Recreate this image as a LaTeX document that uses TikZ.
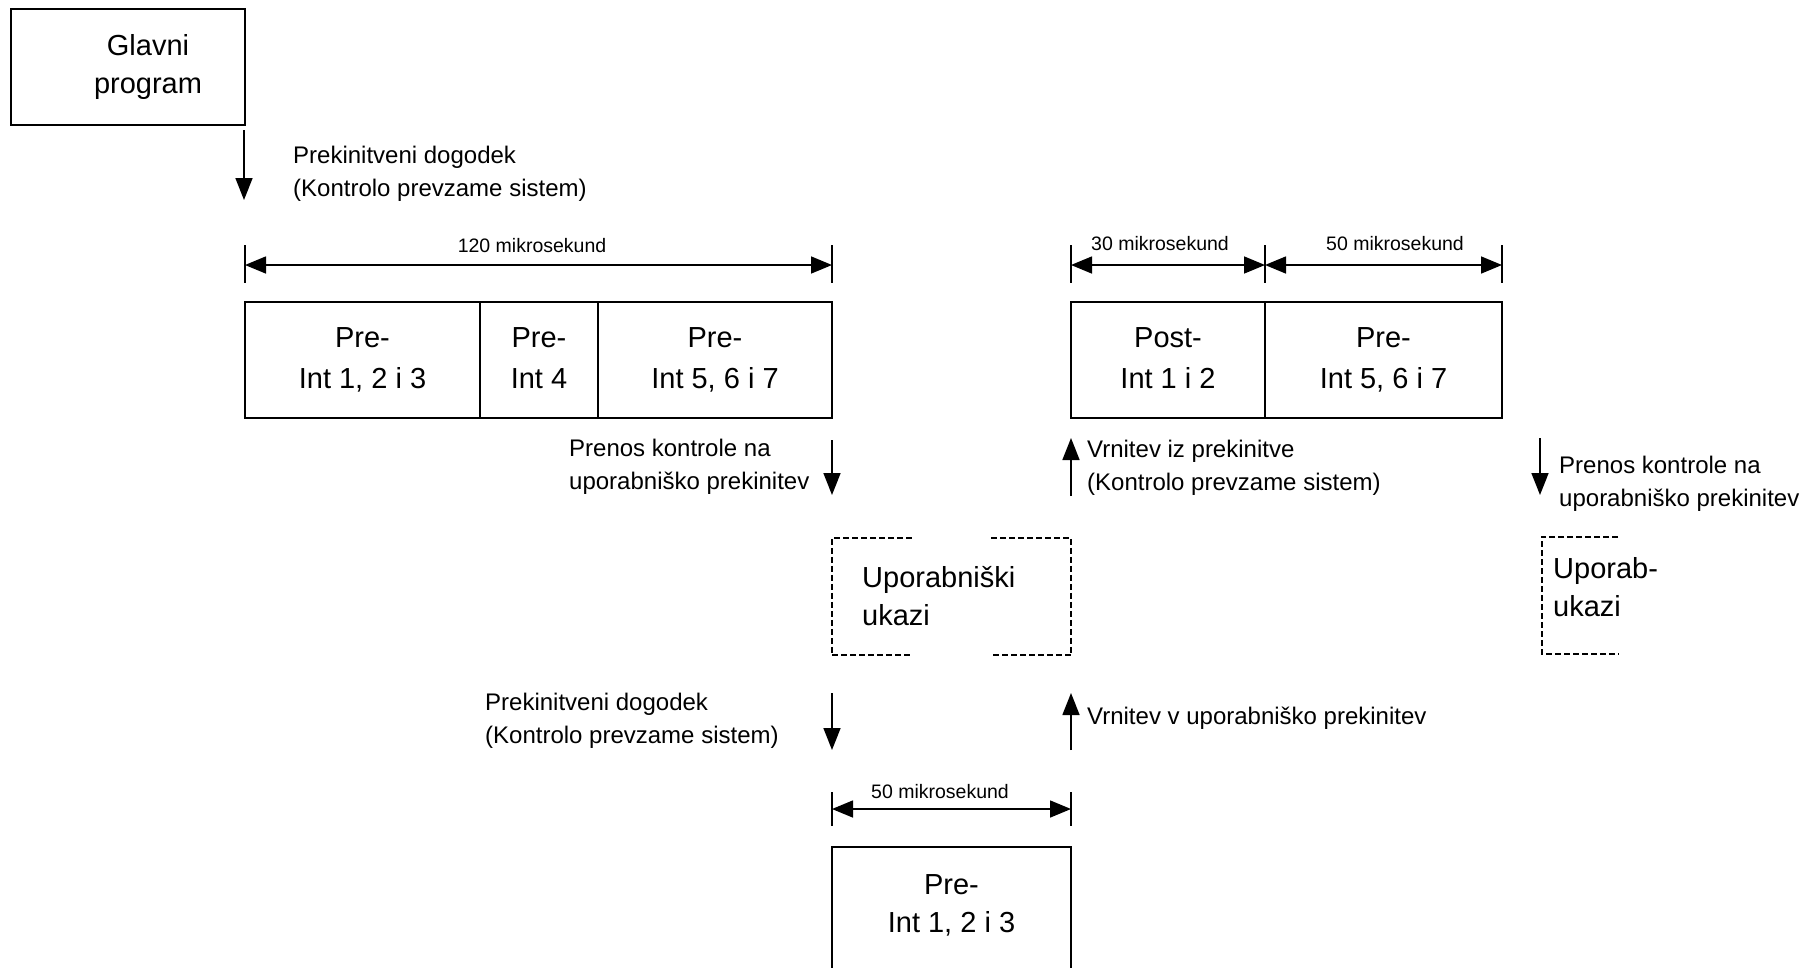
\documentclass[tikz,border=0pt]{standalone}
\usepackage{fontspec}
\setmainfont{Liberation Sans}
\usetikzlibrary{arrows.meta,calc}
\begin{document}
\begin{tikzpicture}[x=1pt,y=-1pt,
  boxline/.style={line width=1.6pt},
  box/.style={draw, boxline, inner sep=0pt, align=center, font=\fontsize{29}{41}\selectfont},
  boxtext/.style={inner sep=0pt, font=\fontsize{29}{38}\selectfont},
  lbl/.style={inner sep=0pt, anchor=west, align=left, font=\fontsize{24}{33}\selectfont},
  dimlbl/.style={inner sep=0pt, anchor=base, font=\fontsize{19.5}{24}\selectfont},
  flow/.style={line width=1.6pt, -{Triangle[length=22pt,width=17pt]}},
  dim/.style={line width=1.6pt, {Triangle[length=21pt,width=17pt]}-{Triangle[length=21pt,width=17pt]}},
  tick/.style={line width=1.6pt},
  dashbox/.style={line width=1.6pt, dash pattern=on 6pt off 3pt}
]
\useasboundingbox (0,0) rectangle (1815,967);
\clip (0,0) rectangle (1815,967);

% main program
\node[draw, boxline, minimum width=234, minimum height=116, inner sep=0pt] (gp) at (128,67) {};
\node[boxtext, align=center] (gpt) at (148,67) {Glavni\\program};

\coordinate (a1s) at (244,130); \coordinate (a1e) at (244,200);
\draw[flow] (a1s) -- (a1e);
\node[lbl] (l1) at (293,174) {Prekinitveni dogodek\\(Kontrolo prevzame sistem)};

% dimension 120
\coordinate (t1a) at (245,245); \coordinate (t1b) at (245,283);
\coordinate (t2a) at (832,245); \coordinate (t2b) at (832,283);
\draw[tick] (t1a) -- (t1b);
\draw[tick] (t2a) -- (t2b);
\coordinate (d1l) at (245,265); \coordinate (d1r) at (832,265);
\draw[dim] (d1l) -- (d1r);
\node[dimlbl] (dl1) at (532,252) {120 mikrosekund};

% row 1
\node[box, minimum width=235, minimum height=116] (c1) at (362.5,360) {Pre-\\Int 1, 2 i 3};
\node[box, minimum width=118, minimum height=116] (c2) at (539,360) {Pre-\\Int 4\vphantom{,}};
\node[box, minimum width=234, minimum height=116] (c3) at (715,360) {Pre-\\Int 5, 6 i 7};

% right dims
\coordinate (t3a) at (1071,245); \coordinate (t3b) at (1071,283);
\coordinate (t4a) at (1265,245); \coordinate (t4b) at (1265,283);
\coordinate (t5a) at (1502,245); \coordinate (t5b) at (1502,283);
\draw[tick] (t3a) -- (t3b);
\draw[tick] (t4a) -- (t4b);
\draw[tick] (t5a) -- (t5b);
\coordinate (d2l) at (1071,265); \coordinate (d2m) at (1265,265); \coordinate (d2r) at (1502,265);
\draw[dim] (d2l) -- (d2m);
\draw[dim] (d2m) -- (d2r);
\node[dimlbl] (dl2) at (1160,250) {30 mikrosekund};
\node[dimlbl] (dl3) at (1395,250) {50 mikrosekund};

% right row
\node[box, minimum width=194, minimum height=116] (c4) at (1168,360) {Post-\\Int 1 i 2\vphantom{,}};
\node[box, minimum width=237, minimum height=116] (c5) at (1383.5,360) {Pre-\\Int 5, 6 i 7};

% arrows below rows
\coordinate (a2s) at (832,440); \coordinate (a2e) at (832,495);
\draw[flow] (a2s) -- (a2e);
\node[lbl] (l2) at (569,467) {Prenos kontrole na\\uporabniško prekinitev};

\coordinate (a3s) at (1071,496); \coordinate (a3e) at (1071,438);
\draw[flow] (a3s) -- (a3e);
\node[lbl] (l3) at (1087,468) {Vrnitev iz prekinitve\\(Kontrolo prevzame sistem)};

\coordinate (a4s) at (1540,438); \coordinate (a4e) at (1540,495);
\draw[flow] (a4s) -- (a4e);
\node[lbl] (l4) at (1559,484) {Prenos kontrole na\\uporabniško prekinitev};

% user code box (dashed, with gaps)
\node[minimum width=239, minimum height=117, inner sep=0pt] (ub) at (951.5,596.5) {};
\node[boxtext, align=left, anchor=west] (ubt) at (862,596) {Uporabniški\\ukazi};
\draw[dashbox] ($(ub.north west)+(80,0)$) -- (ub.north west) -- (ub.south west) -- ($(ub.south west)+(80,0)$);
\draw[dashbox] ($(ub.north east)+(-80,0)$) -- (ub.north east) -- (ub.south east) -- ($(ub.south east)+(-80,0)$);

% right partial dashed box
\node[minimum width=76, minimum height=117, inner sep=0pt] (ub2) at (1580,595.5) {};
\node[boxtext, align=left, anchor=west] (ub2t) at (1553,587) {Uporab-\\ukazi};
\draw[dashbox] (ub2.north east) -- (ub2.north west) -- (ub2.south west) -- (ub2.south east);

% lower arrows
\coordinate (a5s) at (832,693); \coordinate (a5e) at (832,750);
\draw[flow] (a5s) -- (a5e);
\node[lbl] (l5) at (485,721) {Prekinitveni dogodek\\(Kontrolo prevzame sistem)};

\coordinate (a6s) at (1071,750); \coordinate (a6e) at (1071,693);
\draw[flow] (a6s) -- (a6e);
\node[lbl] (l6) at (1087,718) {Vrnitev v uporabniško prekinitev};

% bottom dimension
\coordinate (t6a) at (832,792); \coordinate (t6b) at (832,826);
\coordinate (t7a) at (1071,792); \coordinate (t7b) at (1071,826);
\draw[tick] (t6a) -- (t6b);
\draw[tick] (t7a) -- (t7b);
\coordinate (d3l) at (832,809); \coordinate (d3r) at (1071,809);
\draw[dim] (d3l) -- (d3r);
\node[dimlbl] (dl4) at (940,798) {50 mikrosekund};

% bottom box (cut off by the page edge)
\node[boxtext, align=center, minimum width=239, minimum height=116] (bb) at (951.5,905) {Pre-\\Int 1, 2 i 3};
\draw[boxline] ($(bb.south west)+(0,20)$) -- (bb.north west) -- (bb.north east) -- ($(bb.south east)+(0,20)$);
\end{tikzpicture}
\end{document}
